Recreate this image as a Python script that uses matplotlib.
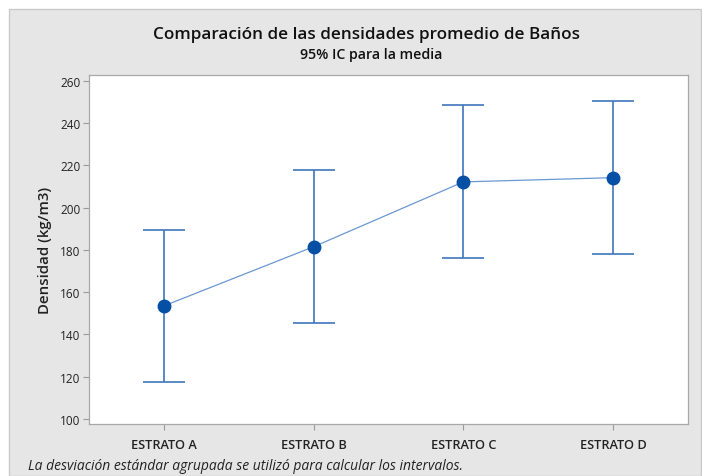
import matplotlib
matplotlib.use("Agg")
import matplotlib.pyplot as plt
from matplotlib.patches import Rectangle

# Interval plot data: group means with 95% confidence limits
categories = ["ESTRATO A", "ESTRATO B", "ESTRATO C", "ESTRATO D"]
means = [153.5, 181.5, 212.2, 214.2]
lower = [117.4, 145.4, 176.1, 178.1]
upper = [189.6, 217.6, 248.4, 250.4]
yticks = [100, 120, 140, 160, 180, 200, 220, 240, 260]

plt.rcParams["font.family"] = ["Open Sans", "DejaVu Sans"]

W, H = 702, 477
fig = plt.figure(figsize=(W / 100, H / 100), dpi=100)
fig.patch.set_facecolor("white")

# grey panel behind everything
fig.patches.append(Rectangle((9 / W, 0), (W - 10) / W, (H - 10) / H,
                             transform=fig.transFigure, facecolor="#e6e6e6",
                             edgecolor="#c9c9c9", linewidth=1.0, zorder=-10))

ax = fig.add_axes([89 / W, 1 - 425 / H, (688 - 89) / W, (425 - 76) / H])
ax.set_facecolor("white")

x = list(range(1, len(categories) + 1))
err_lo = [m - l for m, l in zip(means, lower)]
err_hi = [u - m for m, u in zip(means, upper)]

ax.plot(x, means, color="#6a98d2", linewidth=0.9, zorder=2)
ax.errorbar(x, means, yerr=[err_lo, err_hi], fmt="none", ecolor="#3d76bb",
            elinewidth=1.2, capsize=15, capthick=1.2, zorder=3)
ax.plot(x, means, "o", color="#0550a5", markersize=9, zorder=4)

ax.set_xlim(0.5, 4.5)
ax.set_ylim(97.6, 262.8)
ax.set_yticks(yticks)
ax.set_xticks(x)
ax.set_xticklabels(categories, fontsize=9.2, fontweight="semibold", color="#222222")
ax.tick_params(axis="y", labelsize=8.5, labelcolor="#222222", length=4,
               color="#9a9a9a", width=0.8, pad=2)
ax.tick_params(axis="x", length=4, color="#9a9a9a", width=0.8, pad=6)
for s in ax.spines.values():
    s.set_color("#a8a8a8")
    s.set_linewidth(0.9)

ax.set_ylabel("Densidad (kg/m3)", fontsize=10.8, fontweight="semibold",
              color="#222222", labelpad=6)

fig.text(367 / W, 1 - 35 / H, "Comparación de las densidades promedio de Baños",
         ha="center", va="center", fontsize=12.3, fontweight="semibold", color="#111111")
fig.text(371 / W, 1 - 55 / H, "95% IC para la media",
         ha="center", va="center", fontsize=10.2, fontweight="semibold", color="#111111")
fig.text(28 / W, 1 - 467 / H,
         "La desviación estándar agrupada se utilizó para calcular los intervalos.",
         ha="left", va="center", fontsize=10, style="italic", color="#222222")

fig.savefig("out.png", dpi=100, facecolor=fig.get_facecolor())
